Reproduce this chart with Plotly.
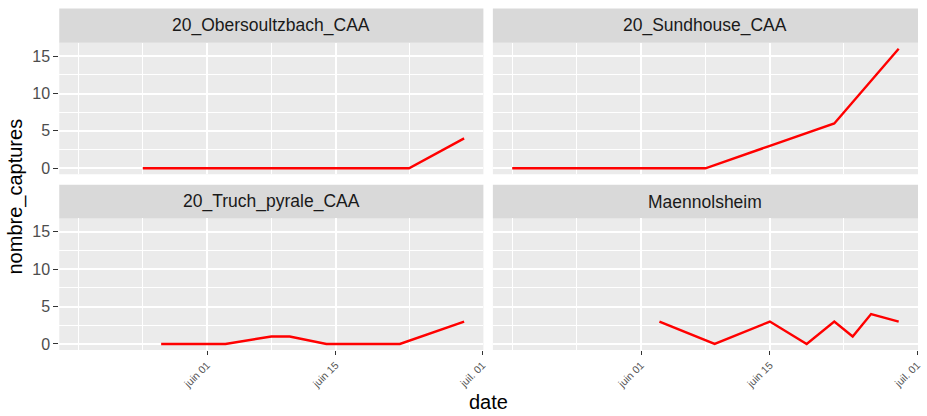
import plotly.graph_objects as go

# ---------------- data ----------------
obersoultzbach_dates = ["2020-05-25", "2020-06-01", "2020-06-08", "2020-06-15", "2020-06-23", "2020-06-29"]
obersoultzbach_vals = [0, 0, 0, 0, 0, 4]

sundhouse_dates = ["2020-05-18", "2020-05-25", "2020-06-01", "2020-06-08", "2020-06-15", "2020-06-22", "2020-06-29"]
sundhouse_vals = [0, 0, 0, 0, 3, 6, 16]

truch_dates = ["2020-05-27", "2020-06-03", "2020-06-08", "2020-06-10", "2020-06-14", "2020-06-22", "2020-06-29"]
truch_vals = [0, 0, 1, 1, 0, 0, 3]

maennolsheim_dates = ["2020-06-03", "2020-06-09", "2020-06-15", "2020-06-19", "2020-06-22", "2020-06-24", "2020-06-26", "2020-06-29"]
maennolsheim_vals = [3, 0, 3, 0, 3, 1, 4, 3]

panel_titles = ["20_Obersoultzbach_CAA", "20_Sundhouse_CAA", "20_Truch_pyrale_CAA", "Maennolsheim"]

x_tick_vals = ["2020-06-01", "2020-06-15", "2020-07-01"]
x_tick_text = ["juin 01", "juin 15", "juil. 01"]
x_minor_vals = ["2020-05-18", "2020-05-25", "2020-06-08", "2020-06-23"]
y_tick_vals = [0, 5, 10, 15]
y_minor_vals = [2.5, 7.5, 12.5]

x_range = ["2020-05-15 21:36", "2020-07-01 02:24"]
y_range = [-0.8, 16.8]

# ---------------- layout geometry (pixels) ----------------
W, H = 927, 416
FONT = "Liberation Sans, Arial, sans-serif"


def px_x(v):
    return v / W


def px_y(v):
    return 1 - v / H


col_dom = [[px_x(59.5), px_x(485.5)], [px_x(495), px_x(922)]]
row_dom = [[px_y(175.5), px_y(43)], [px_y(352.5), px_y(220)]]
strip_dom = [[px_y(43), px_y(8.5)], [px_y(220), px_y(186)]]

series = [
    (obersoultzbach_dates, obersoultzbach_vals),
    (sundhouse_dates, sundhouse_vals),
    (truch_dates, truch_vals),
    (maennolsheim_dates, maennolsheim_vals),
]

fig = go.Figure()
layout = dict(
    width=W, height=H,
    margin=dict(l=0, r=0, t=0, b=0),
    paper_bgcolor="white",
    plot_bgcolor="#EBEBEB",
    showlegend=False,
    font=dict(family=FONT, color="#4D4D4D"),
)

shapes = []
annotations = []

for i, (d, v) in enumerate(series):
    r, c = divmod(i, 2)
    n = i + 1
    xa = "x" if n == 1 else f"x{n}"
    ya = "y" if n == 1 else f"y{n}"
    fig.add_trace(go.Scatter(x=d, y=v, mode="lines", xaxis=xa, yaxis=ya,
                             line=dict(color="#FF0000", width=2.4)))
    xkey = "xaxis" if n == 1 else f"xaxis{n}"
    ykey = "yaxis" if n == 1 else f"yaxis{n}"
    bottom = (r == 1)
    left = (c == 0)
    layout[xkey] = dict(
        domain=col_dom[c], anchor=ya, type="date", range=x_range,
        tickmode="array", tickvals=x_tick_vals, ticktext=x_tick_text,
        showticklabels=bottom, ticks="outside" if bottom else "",
        ticklen=4, tickwidth=1, tickcolor="#333333", tickangle=-45,
        tickfont=dict(size=10.5, color="#555555", family=FONT),
        showgrid=True, gridcolor="white", gridwidth=1.5,
        zeroline=False, showline=False, fixedrange=True,
        minor=dict(tickmode="array", tickvals=x_minor_vals, showgrid=True,
                   gridcolor="white", gridwidth=0.8, ticks=""),
    )
    layout[ykey] = dict(
        domain=row_dom[r], anchor=xa, range=y_range,
        tickmode="array", tickvals=y_tick_vals,
        showticklabels=left, ticks="outside" if left else "",
        ticklen=5, tickwidth=1, tickcolor="#333333",
        tickfont=dict(size=16, color="#4D4D4D", family=FONT),
        showgrid=True, gridcolor="white", gridwidth=1.5,
        zeroline=False, showline=False, fixedrange=True,
        minor=dict(tickmode="array", tickvals=y_minor_vals, showgrid=True,
                   gridcolor="white", gridwidth=0.8, ticks=""),
    )
    # strip
    shapes.append(dict(type="rect", xref="paper", yref="paper",
                       x0=col_dom[c][0], x1=col_dom[c][1],
                       y0=strip_dom[r][0], y1=strip_dom[r][1],
                       fillcolor="#D9D9D9", line=dict(width=0), layer="below"))
    annotations.append(dict(text=panel_titles[i], xref="paper", yref="paper",
                            x=(col_dom[c][0] + col_dom[c][1]) / 2,
                            y=(strip_dom[r][0] + strip_dom[r][1]) / 2,
                            xanchor="center", yanchor="middle", showarrow=False,
                            font=dict(size=17.5, color="#1A1A1A", family=FONT)))

annotations.append(dict(text="date", xref="paper", yref="paper",
                        x=(col_dom[0][0] + col_dom[1][1]) / 2, y=px_y(405),
                        xanchor="center", yanchor="middle", showarrow=False,
                        font=dict(size=20, color="black", family=FONT)))
annotations.append(dict(text="nombre_captures", xref="paper", yref="paper",
                        x=px_x(16), y=px_y(198), textangle=-90,
                        xanchor="center", yanchor="middle", showarrow=False,
                        font=dict(size=20, color="black", family=FONT)))

layout["shapes"] = shapes
layout["annotations"] = annotations
fig.update_layout(**layout)

fig.write_html("out.html", config={"displayModeBar": False},
               post_script="document.body.style.margin='0px';")
